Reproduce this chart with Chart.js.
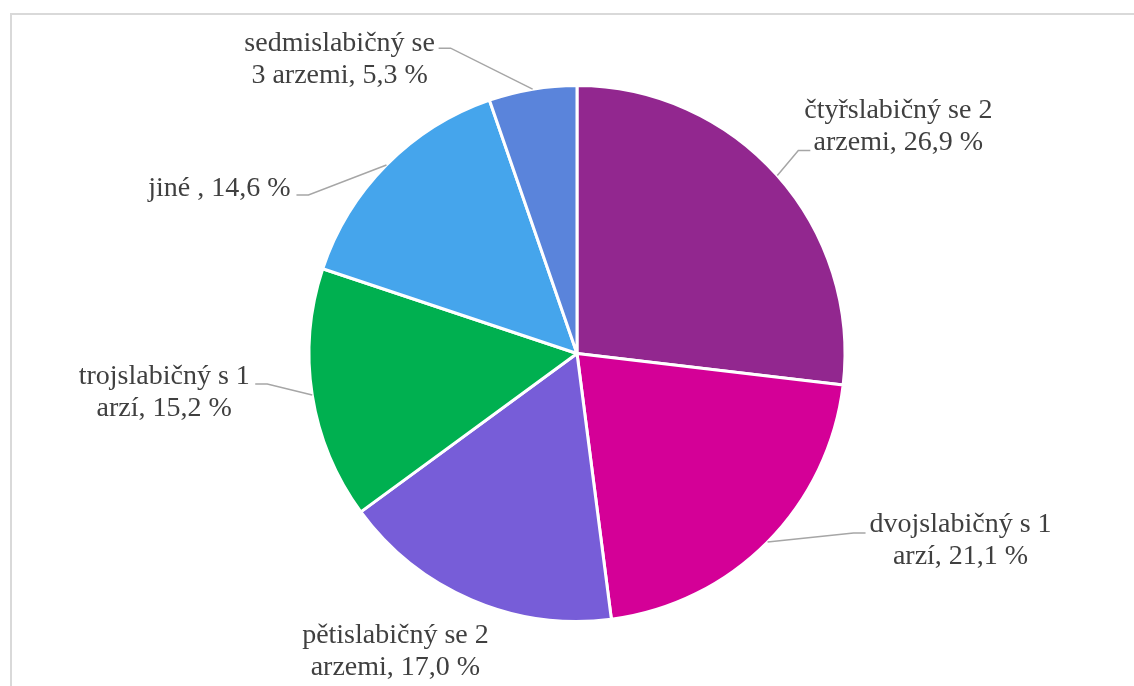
<!DOCTYPE html>
<html>
<head>
<meta charset="utf-8">
<script src="https://cdn.jsdelivr.net/npm/chart.js@4/dist/chart.umd.min.js"></script>
<style>
  html, body { margin: 0; padding: 0; background: #fff; }
  #frame { position: absolute; left: 10px; top: 13px; width: 1200px; height: 800px;
           border-left: 2px solid #D9D9D9; border-top: 2px solid #D9D9D9; }
  #wrap { position: absolute; left: 0; top: 0; width: 1134px; height: 686px; }
</style>
</head>
<body>
<div id="frame"></div>
<div id="wrap"><canvas id="graf"></canvas></div>
<script>
// Podíly typů veršů (%)
const kategorie = [
  ['čtyřslabičný se 2', 'arzemi'],
  ['dvojslabičný s 1', 'arzí'],
  ['pětislabičný se 2', 'arzemi'],
  ['trojslabičný s 1', 'arzí'],
  ['jiné '],
  ['sedmislabičný se', '3 arzemi']
];
const hodnoty = [26.9, 21.1, 17.0, 15.2, 14.6, 5.3];
const barvy = ['#92278F', '#D40097', '#775DD8', '#00B050', '#45A5EC', '#5A84DB'];

// umístění popisků vůči okraji výseče (dx, dy) a místo připojení vodicí čáry
const posunPopisku = [[121, -49], [193, -1], [-76, 52], [-148, -2], [-167, 24], [-193, -30]];
const pripojeni = [[-88, 24], [-95, -8], null, [91, -9], [77, 6], [99, -11]];

const fmt = v => v.toFixed(1).replace('.', ',') + ' %';

function textPopisku(i) {
  const radky = kategorie[i].slice();
  if (radky.length === 1) return [radky[0] + ', ' + fmt(hodnoty[i])];
  radky[radky.length - 1] += ', ' + fmt(hodnoty[i]);
  return radky;
}

const popisky = {
  id: 'popisky',
  afterDatasetsDraw(chart) {
    const ctx = chart.ctx;
    const meta = chart.getDatasetMeta(0);
    ctx.save();
    meta.data.forEach((arc, i) => {
      const p = arc.getProps(['x', 'y', 'startAngle', 'endAngle', 'outerRadius'], true);
      const mid = (p.startAngle + p.endAngle) / 2;
      const ex = p.x + Math.cos(mid) * p.outerRadius;
      const ey = p.y + Math.sin(mid) * p.outerRadius;
      const cx = ex + posunPopisku[i][0];
      const cy = ey + posunPopisku[i][1];

      const a = pripojeni[i];
      if (a) {
        const ax = cx + a[0], ay = cy + a[1];
        const kx = ax + (a[0] < 0 ? -12 : 12);
        ctx.strokeStyle = '#A6A6A6';
        ctx.lineWidth = 1.5;
        ctx.beginPath();
        ctx.moveTo(ex, ey);
        ctx.lineTo(kx, ay);
        ctx.lineTo(ax, ay);
        ctx.stroke();
      }

      const radky = textPopisku(i);
      ctx.font = '28px "Liberation Serif", "Times New Roman", serif';
      ctx.fillStyle = '#404040';
      ctx.textAlign = 'center';
      ctx.textBaseline = 'middle';
      const lh = 32;
      const y0 = cy - (radky.length - 1) * lh / 2;
      radky.forEach((r, j) => ctx.fillText(r, cx, y0 + j * lh));
    });
    ctx.restore();
  }
};

const ctxGraf = document.getElementById('graf').getContext('2d');
const graf = new Chart(ctxGraf, {
  type: 'pie',
  data: {
    labels: kategorie.map(k => k.join(' ')),
    datasets: [{
      data: hodnoty,
      backgroundColor: barvy,
      borderColor: '#FFFFFF',
      borderWidth: 3
    }]
  },
  options: {
    responsive: true,
    maintainAspectRatio: false,
    animation: false,
    layout: { padding: { top: 84, bottom: 63, left: 20, right: 0 } },
    plugins: {
      legend: { display: false },
      tooltip: { enabled: false }
    }
  },
  plugins: [popisky]
});
</script>
</body>
</html>
